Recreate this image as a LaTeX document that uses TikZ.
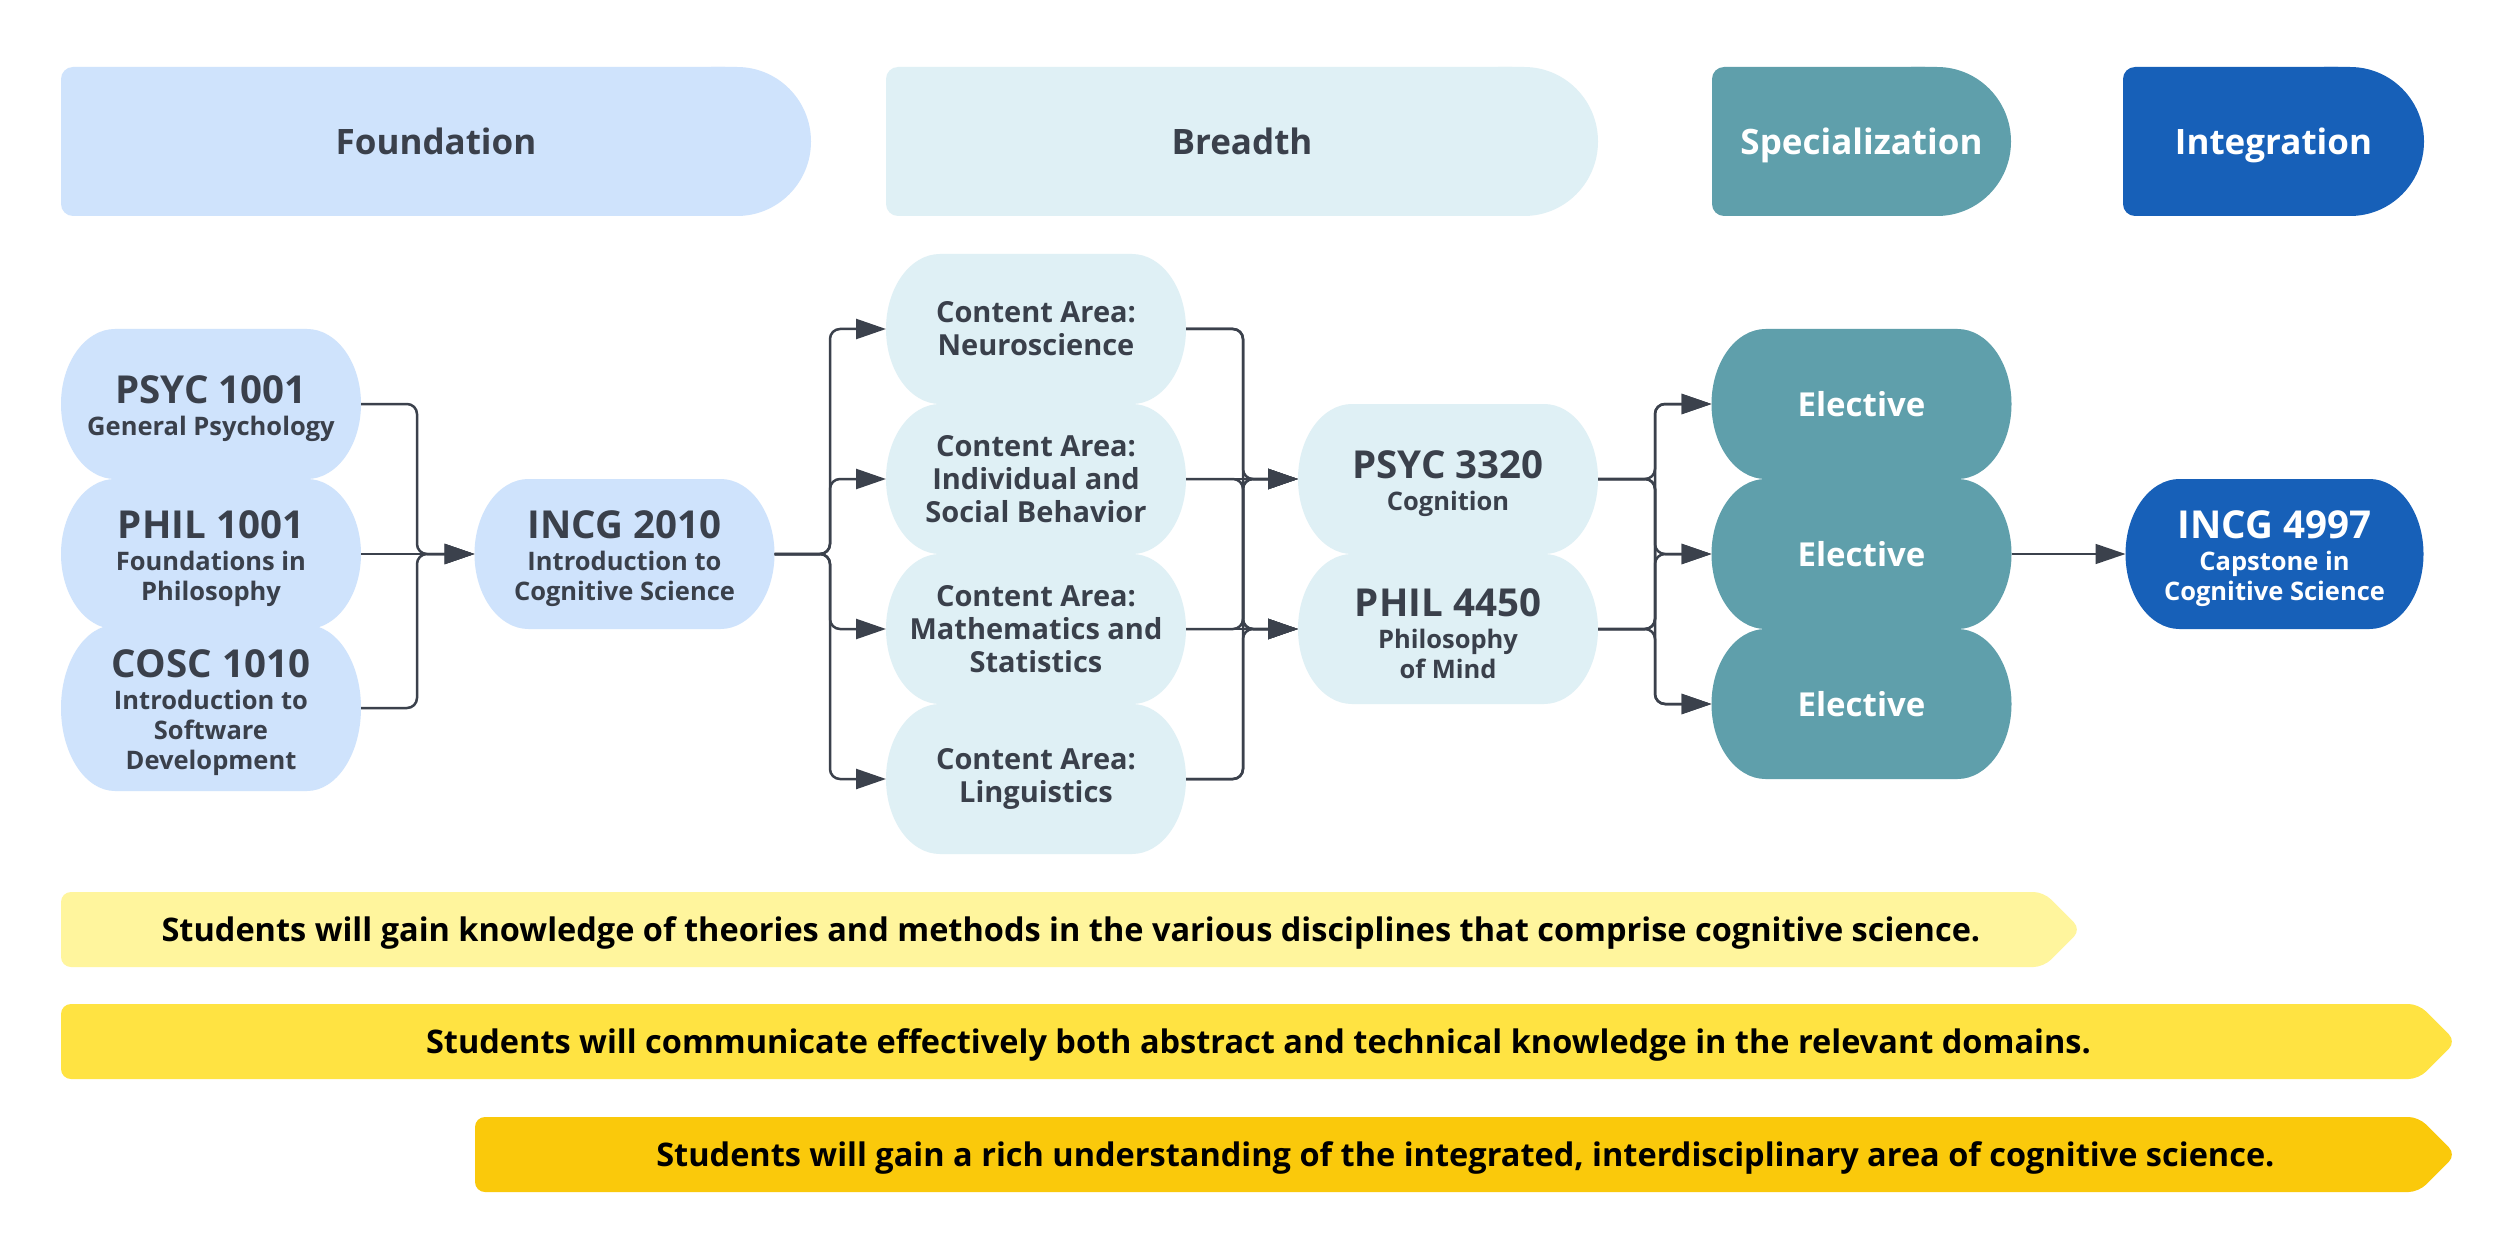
\documentclass[tikz,border=0pt]{standalone}
\usepackage{fontspec}
\setmainfont{Open Sans}
\usetikzlibrary{arrows.meta,calc}
\pgfdeclarelayer{bg}
\pgfdeclarelayer{paper}
\pgfsetlayers{paper,bg,main}
\definecolor{cF}{HTML}{CFE3FC}
\definecolor{cB}{HTML}{DFF0F5}
\definecolor{cS}{HTML}{5F9FAB}
\definecolor{cI}{HTML}{1760B8}
\definecolor{txt}{HTML}{3A404B}
\definecolor{ln}{HTML}{3B414C}
\definecolor{yA}{HTML}{FFF59D}
\definecolor{yB}{HTML}{FFE342}
\definecolor{yC}{HTML}{FAC90B}
\newcommand\ttl[1]{{\fontsize{38.5}{31}\selectfont\rule{0pt}{37pt}#1}}
% pill with elliptical sides
\newcommand\pillfill[2]{%
  \fill[#2] ($(#1.north west)+(54,0)$) -- ($(#1.north east)+(-54,0)$)
   .. controls ($(#1.north east)+(-24.2,0)$) and ($(#1.east)!0.5523!(#1.north east)$) .. (#1.east)
   .. controls ($(#1.east)!0.5523!(#1.south east)$) and ($(#1.south east)+(-24.2,0)$) .. ($(#1.south east)+(-54,0)$)
   -- ($(#1.south west)+(54,0)$)
   .. controls ($(#1.south west)+(24.2,0)$) and ($(#1.west)!0.5523!(#1.south west)$) .. (#1.west)
   .. controls ($(#1.west)!0.5523!(#1.north west)$) and ($(#1.north west)+(24.2,0)$) .. ($(#1.north west)+(54,0)$) -- cycle;}
% header: rounded left corners, half-ellipse right end
\newcommand\headfill[2]{%
  \fill[#2, rounded corners=12pt] (#1.north west) rectangle ($(#1.south east)+(-74,0)$);
  \fill[#2] ($(#1.north east)+(-100,0)$) -- ($(#1.north east)+(-74,0)$)
   .. controls ($(#1.north east)+(-33.1,0)$) and ($(#1.east)!0.5523!(#1.north east)$) .. (#1.east)
   .. controls ($(#1.east)!0.5523!(#1.south east)$) and ($(#1.south east)+(-33.1,0)$) .. ($(#1.south east)+(-74,0)$)
   -- ($(#1.south east)+(-100,0)$) -- cycle;}
% banner with pointed right end
\newcommand\bannerfill[2]{%
  \fill[#2, rounded corners=10pt] (#1.north west) -- ($(#1.north east)+(-37.5,0)$) -- (#1.east)
   -- ($(#1.south east)+(-37.5,0)$) -- (#1.south west) -- cycle;}
\tikzset{
  box/.style={inner sep=0pt, outer sep=0pt, minimum width=300pt, minimum height=150pt,
    align=center, text=txt, font=\bfseries\fontsize{25.5}{30}\selectfont},
  cbox/.style={box, font=\bfseries\fontsize{29}{33}\selectfont},
  ebox/.style={box, text=white, font=\bfseries\fontsize{33}{36}\selectfont},
  head/.style={inner sep=0pt, outer sep=0pt, minimum height=149pt, text=txt,
    text height=26.6pt, text depth=0pt, font=\bfseries\fontsize{35}{40}\selectfont},
  banner/.style={inner sep=0pt, outer sep=0pt, minimum height=75pt, text=black,
    text height=24.7pt, text depth=0pt, font=\bfseries\fontsize{32.5}{38}\selectfont},
  conn/.style={draw=ln, line width=2.5pt, rounded corners=10pt,
    -{Triangle[length=30pt,width=20pt]}},
  connthin/.style={conn, line width=1.6pt},
}
\begin{document}
\begin{tikzpicture}[x=1pt,y=-1pt]
\begin{pgfonlayer}{paper}
\fill[white] (0,0) rectangle (2509,1257);
\end{pgfonlayer}
\useasboundingbox (0,0) rectangle (2509,1257);

% headers
\node[head, minimum width=750pt] (hF) at (436,141.5) {Foundation};
\node[head, minimum width=712pt] (hB) at (1242,141.5) {Breadth};
\node[head, minimum width=299pt, text=white] (hS) at (1861.5,141.5) {Specialization};
\node[head, minimum width=301pt, text=white] (hI) at (2273.5,141.5) {Integration};

% foundation
\node[box] (psyc1) at (211,404) {\ttl{PSYC 1001}\\[2pt]General Psychology};
\node[box] (phil1) at (211,554) {\ttl{PHIL 1001}\\[2pt]Foundations in\\Philosophy};
\node[box, minimum height=166pt] (cosc) at (211,708) {\ttl{COSC 1010}\\[2pt]Introduction to\\Software\\Development};
\node[box] (incg) at (624.5,554) {\ttl{INCG 2010}\\[2pt]Introduction to\\Cognitive Science};

% breadth
\node[cbox] (neuro) at (1036,329) {Content Area:\\Neuroscience};
\node[cbox] (ind) at (1036,479) {Content Area:\\Individual and\\Social Behavior};
\node[cbox] (math) at (1036,629) {Content Area:\\Mathematics and\\Statistics};
\node[cbox] (ling) at (1036,779) {Content Area:\\Linguistics};
\node[box] (psyc3) at (1448,479) {\ttl{PSYC 3320}\\[2pt]Cognition};
\node[box] (phil4) at (1448,629) {\ttl{PHIL 4450}\\[2pt]Philosophy\\of Mind};

% specialization
\node[ebox] (e1) at (1861.5,404) {Elective};
\node[ebox] (e2) at (1861.5,554) {Elective};
\node[ebox] (e3) at (1861.5,704) {Elective};

% integration
\node[box, minimum width=298pt, text=white] (cap) at (2274.5,554) {\ttl{INCG 4997}\\[2pt]Capstone in\\Cognitive Science};

% banners
\node[banner, minimum width=2020pt] (b1) at (1071,929.5) {Students will gain knowledge of theories and methods in the various disciplines that comprise cognitive science.};
\node[banner, minimum width=2395pt] (b2) at (1258.5,1041.5) {Students will communicate effectively both abstract and technical knowledge in the relevant domains.};
\node[banner, minimum width=1981pt] (b3) at (1465.5,1154.5) {Students will gain a rich understanding of the integrated, interdisciplinary area of cognitive science.};

\begin{pgfonlayer}{bg}
\headfill{hF}{cF}
\headfill{hB}{cB}
\headfill{hS}{cS}
\headfill{hI}{cI}
\pillfill{psyc1}{cF}
\pillfill{phil1}{cF}
\pillfill{cosc}{cF}
\pillfill{incg}{cF}
\pillfill{neuro}{cB}
\pillfill{ind}{cB}
\pillfill{math}{cB}
\pillfill{ling}{cB}
\pillfill{psyc3}{cB}
\pillfill{phil4}{cB}
\pillfill{e1}{cS}
\pillfill{e2}{cS}
\pillfill{e3}{cS}
\pillfill{cap}{cI}
\bannerfill{b1}{yA}
\bannerfill{b2}{yB}
\bannerfill{b3}{yC}
\end{pgfonlayer}

% junction coordinates
\coordinate (f0) at (417,554);
\coordinate (a1) at (830,329);
\coordinate (a2) at (830,479);
\coordinate (a3) at (830,629);
\coordinate (a4) at (830,779);
\coordinate (c1) at (1243,479);
\coordinate (c2) at (1243,629);
\coordinate (k1) at (1655,404);
\coordinate (k2) at (1655,554);
\coordinate (k3) at (1655,704);

% connectors
\draw[conn] (psyc1.east) -| (f0) -- (incg.west);
\draw[connthin] (phil1.east) -- (incg.west);
\draw[conn] (cosc.east) -| (f0) -- (incg.west);

\draw[conn] (incg.east) -| (a1) -- (neuro.west);
\draw[conn] (incg.east) -| (a2) -- (ind.west);
\draw[conn] (incg.east) -| (a3) -- (math.west);
\draw[conn] (incg.east) -| (a4) -- (ling.west);

\draw[conn] (neuro.east) -| (c1) -- (psyc3.west);
\draw[conn] (neuro.east) -| (c2) -- (phil4.west);
\draw[conn] (ind.east) -- (psyc3.west);
\draw[conn] (ind.east) -| (c2) -- (phil4.west);
\draw[conn] (math.east) -| (c1) -- (psyc3.west);
\draw[conn] (math.east) -- (phil4.west);
\draw[conn] (ling.east) -| (c1) -- (psyc3.west);
\draw[conn] (ling.east) -| (c2) -- (phil4.west);

\draw[conn] (psyc3.east) -| (k1) -- (e1.west);
\draw[conn] (psyc3.east) -| (k2) -- (e2.west);
\draw[conn] (psyc3.east) -| (k3) -- (e3.west);
\draw[conn] (phil4.east) -| (k1) -- (e1.west);
\draw[conn] (phil4.east) -| (k2) -- (e2.west);
\draw[conn] (phil4.east) -| (k3) -- (e3.west);

\draw[connthin] (e2.east) -- (cap.west);
\end{tikzpicture}
\end{document}
